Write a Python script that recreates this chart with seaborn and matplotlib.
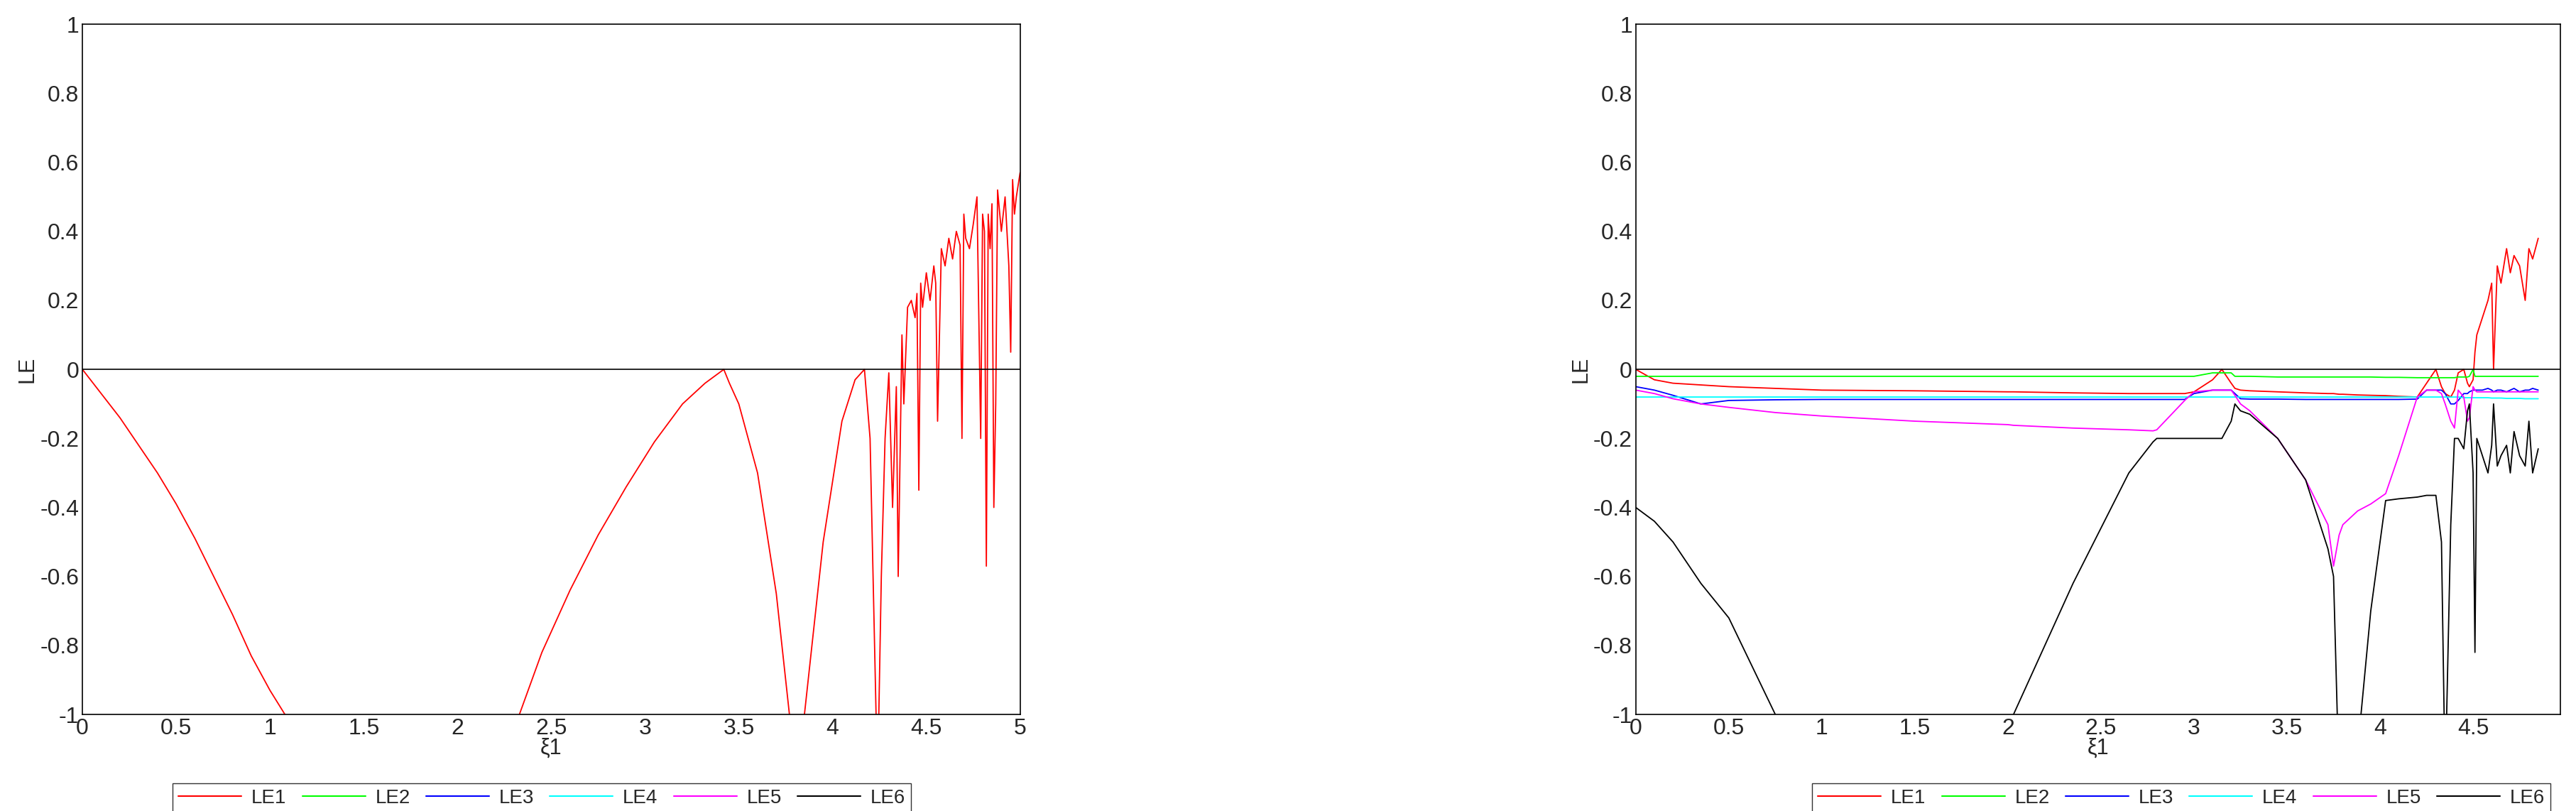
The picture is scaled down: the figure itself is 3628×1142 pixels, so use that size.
import numpy as np
import pandas as pd
import seaborn as sns
import matplotlib
matplotlib.use('Agg')
import matplotlib.pyplot as plt

# DATA -----------------------------------------------------------------------
# left panel: LE1 only (values below -1 are clipped by the axis)
left_x = [0, 0.1, 0.2, 0.3, 0.4, 0.5, 0.6, 0.7, 0.8, 0.9, 1.0, 1.08, 1.2,
          2.2, 2.33, 2.45, 2.6, 2.75, 2.9, 3.05, 3.2, 3.32, 3.42, 3.45, 3.5, 3.6, 3.7, 3.77, 3.8,
          3.83, 3.85, 3.95, 4.05, 4.12, 4.17, 4.2, 4.24, 4.26, 4.28, 4.3, 4.32, 4.34, 4.35,
          4.37, 4.38, 4.4, 4.42, 4.44, 4.45, 4.46, 4.47, 4.48, 4.5, 4.52, 4.54, 4.55, 4.56,
          4.58, 4.6, 4.62, 4.64, 4.66, 4.68, 4.69, 4.7, 4.71, 4.73, 4.75, 4.77, 4.79, 4.8,
          4.81, 4.82, 4.83, 4.84, 4.85, 4.86, 4.87, 4.88, 4.9, 4.92, 4.94, 4.95, 4.96, 4.97,
          4.98, 5.0]
left_le1 = [0, -0.07, -0.14, -0.22, -0.3, -0.39, -0.49, -0.6, -0.71, -0.83, -0.93, -1.0, -1.12,
            -1.15, -1.0, -0.82, -0.64, -0.48, -0.34, -0.21, -0.1, -0.04, 0.0, -0.04, -0.1, -0.3, -0.65, -1.0, -1.2,
            -1.2, -1.0, -0.5, -0.15, -0.03, 0.0, -0.2, -1.2, -0.6, -0.2, -0.01, -0.4, -0.05, -0.6,
            0.1, -0.1, 0.18, 0.2, 0.15, 0.22, -0.35, 0.25, 0.18, 0.28, 0.2, 0.3, 0.25, -0.15,
            0.35, 0.3, 0.38, 0.32, 0.4, 0.36, -0.2, 0.45, 0.38, 0.35, 0.42, 0.5, -0.2, 0.45,
            0.4, -0.57, 0.45, 0.35, 0.48, -0.4, -0.1, 0.52, 0.4, 0.5, 0.3, 0.05, 0.55, 0.45,
            0.5, 0.57]

right_x = [0, 0.1, 0.2, 0.35, 0.5, 0.75, 1.0, 1.5, 2.0, 2.03, 2.35, 2.65, 2.78, 2.8, 2.95, 3.0,
           3.1, 3.15, 3.2, 3.22, 3.25, 3.3, 3.45, 3.6, 3.72, 3.75, 3.78, 3.8, 3.88, 3.95, 4.03,
           4.1, 4.2, 4.25, 4.3, 4.33, 4.35, 4.38, 4.4, 4.42, 4.45, 4.47, 4.48, 4.5, 4.51, 4.52,
           4.55, 4.58, 4.6, 4.61, 4.63, 4.65, 4.68, 4.7, 4.72, 4.75, 4.78, 4.8, 4.82, 4.85]
right_le1 = [0, -0.03, -0.04, -0.045, -0.05, -0.055, -0.06, -0.062, -0.065, -0.065, -0.068, -0.07, -0.07, -0.07, -0.07, -0.065,
             -0.03, 0.0, -0.04, -0.055, -0.06, -0.062, -0.065, -0.068, -0.07, -0.07, -0.072, -0.072, -0.074, -0.075, -0.076,
             -0.078, -0.08, -0.04, 0.0, -0.05, -0.07, -0.08, -0.06, -0.01, 0.0, -0.04, -0.05, -0.03, 0.05, 0.1,
             0.15, 0.2, 0.25, 0.0, 0.3, 0.25, 0.35, 0.28, 0.33, 0.3, 0.2, 0.35, 0.32, 0.38]
right_le2 = [-0.02, -0.02, -0.02, -0.02, -0.02, -0.02, -0.02, -0.02, -0.02, -0.02, -0.02, -0.02, -0.02, -0.02, -0.02, -0.02,
             -0.01, -0.01, -0.01, -0.02, -0.02, -0.02, -0.022, -0.022, -0.022, -0.022, -0.022, -0.022, -0.022, -0.022, -0.023,
             -0.023, -0.024, -0.024, -0.024, -0.024, -0.024, -0.024, -0.024, -0.022, -0.022, -0.022, -0.02, 0.0, -0.02, -0.02,
             -0.02, -0.02, -0.02, -0.02, -0.02, -0.02, -0.02, -0.02, -0.02, -0.02, -0.02, -0.02, -0.02, -0.02]
right_le3 = [-0.05, -0.06, -0.075, -0.1, -0.09, -0.088, -0.087, -0.087, -0.087, -0.087, -0.087, -0.087, -0.087, -0.087, -0.087, -0.07,
             -0.06, -0.06, -0.06, -0.07, -0.085, -0.086, -0.086, -0.087, -0.087, -0.087, -0.087, -0.087, -0.087, -0.087, -0.087,
             -0.087, -0.086, -0.06, -0.06, -0.06, -0.07, -0.1, -0.1, -0.09, -0.07, -0.07, -0.065, -0.06, -0.06, -0.06,
             -0.06, -0.055, -0.06, -0.065, -0.06, -0.06, -0.065, -0.06, -0.055, -0.065, -0.06, -0.06, -0.055, -0.06]
right_le4 = [-0.08, -0.08, -0.08, -0.08, -0.08, -0.08, -0.08, -0.08, -0.08, -0.08, -0.08, -0.08, -0.08, -0.08, -0.08, -0.08,
             -0.08, -0.08, -0.08, -0.08, -0.08, -0.08, -0.08, -0.08, -0.08, -0.08, -0.08, -0.08, -0.08, -0.08, -0.08,
             -0.08, -0.08, -0.08, -0.08, -0.08, -0.08, -0.08, -0.08, -0.08, -0.082, -0.082, -0.082, -0.082, -0.082, -0.082,
             -0.082, -0.082, -0.083, -0.083, -0.083, -0.083, -0.084, -0.084, -0.084, -0.084, -0.085, -0.085, -0.085, -0.085]
right_le5 = [-0.06, -0.07, -0.085, -0.1, -0.11, -0.125, -0.135, -0.15, -0.16, -0.162, -0.17, -0.175, -0.178, -0.175, -0.09, -0.065,
             -0.06, -0.06, -0.06, -0.075, -0.1, -0.12, -0.2, -0.32, -0.45, -0.57, -0.48, -0.45, -0.41, -0.39, -0.36,
             -0.25, -0.08, -0.06, -0.06, -0.07, -0.1, -0.15, -0.17, -0.06, -0.08, -0.15, -0.14, -0.05, -0.06, -0.065,
             -0.065, -0.065, -0.065, -0.065, -0.065, -0.065, -0.065, -0.065, -0.065, -0.065, -0.065, -0.065, -0.065, -0.065]
right_le6 = [-0.4, -0.44, -0.5, -0.62, -0.72, -1.0, -1.3, -1.6, -1.1, -1.0, -0.62, -0.3, -0.21, -0.2, -0.2, -0.2,
             -0.2, -0.2, -0.15, -0.1, -0.12, -0.13, -0.2, -0.32, -0.52, -0.6, -1.2, -1.4, -1.1, -0.7, -0.38,
             -0.375, -0.37, -0.365, -0.365, -0.5, -1.2, -0.45, -0.2, -0.2, -0.23, -0.12, -0.1, -0.3, -0.82, -0.2,
             -0.25, -0.3, -0.22, -0.1, -0.28, -0.25, -0.22, -0.3, -0.18, -0.25, -0.28, -0.15, -0.3, -0.23]

labels = ['LE1', 'LE2', 'LE3', 'LE4', 'LE5', 'LE6']
colors = ['#ff0000', '#00ff00', '#0000ff', '#00ffff', '#ff00ff', '#000000']

# PLOT -----------------------------------------------------------------------
sns.set_style('white')
plt.rcParams['font.family'] = ['Liberation Sans', 'DejaVu Sans']

fig = plt.figure(figsize=(36.28, 11.42), dpi=100)
ax_l = fig.add_axes([0.032, 0.119, 0.364, 0.851])
ax_r = fig.add_axes([0.635, 0.119, 0.359, 0.851])

right_df = pd.DataFrame({'x': right_x, 'LE1': right_le1, 'LE2': right_le2, 'LE3': right_le3,
                         'LE4': right_le4, 'LE5': right_le5, 'LE6': right_le6})

def style_axes(ax, xmax, xticks, legend_x):
    ax.axhline(0, color='black', lw=1.2)
    ax.set_xlim(0, xmax)
    ax.set_ylim(-1, 1)
    ax.set_xticks(xticks)
    ax.set_xticklabels([f'{t:g}' for t in xticks])
    yt = np.round(np.arange(-1, 1.01, 0.2), 1)
    ax.set_yticks(yt)
    ax.set_yticklabels([f'{t:g}' if abs(t) > 1e-9 else '0' for t in yt])
    ax.tick_params(direction='in', length=8, labelsize=23)
    ax.set_xlabel('ξ1', fontsize=22, labelpad=-2)
    ax.set_ylabel('LE', fontsize=22, labelpad=2)
    for s in ax.spines.values():
        s.set_color('black')
        s.set_linewidth(1.2)
    # legend with all six series
    handles = [plt.Line2D([], [], color=c, lw=1.5) for c in colors]
    ax.legend(handles, labels, ncol=6, loc='upper center', bbox_to_anchor=(legend_x, -0.085),
              frameon=True, fancybox=False, edgecolor='black', fontsize=20,
              handlelength=3.2, handletextpad=0.5, columnspacing=0.8, borderpad=0.3)

sns.lineplot(x=left_x, y=left_le1, ax=ax_l, color=colors[0], lw=1.3)
style_axes(ax_l, 5, np.arange(0, 5.01, 0.5), 0.49)

for lab, c in zip(labels, colors):
    sns.lineplot(data=right_df, x='x', y=lab, ax=ax_r, color=c, lw=1.3)
style_axes(ax_r, 4.97, np.arange(0, 4.51, 0.5), 0.59)

fig.savefig('out.png', dpi=100)
